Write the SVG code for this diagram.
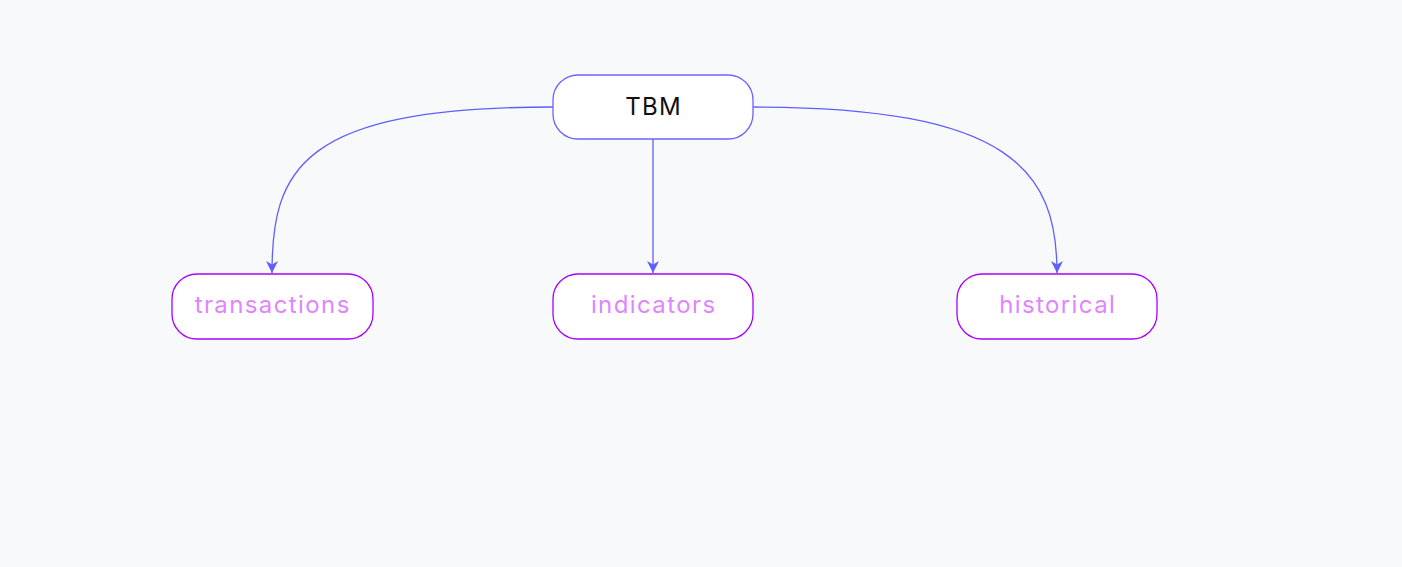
<svg xmlns="http://www.w3.org/2000/svg" width="1402" height="567" viewBox="0 0 1402 567">
<style>
.bg{fill:#f8f9fa}
.root rect{fill:#ffffff;stroke:#6c63ff;stroke-width:1.3}
.leaf rect{fill:#ffffff;stroke:#aa00ff;stroke-width:1.3}
.root text{fill:#111111;font-family:Inter,"Open Sans",sans-serif;font-size:24px;letter-spacing:1.2px;text-anchor:middle}
.leaf text{fill:#e085ff;font-family:Inter,"Open Sans",sans-serif;font-size:24px;letter-spacing:1.4px;text-anchor:middle}
.edge{fill:none;stroke:#5f5fff;stroke-width:1.3}
</style>
<defs>
<marker id="arr" viewBox="0 0 10 10" refX="10" refY="5" markerWidth="12" markerHeight="12" markerUnits="userSpaceOnUse" orient="auto">
<path d="M0,0 L10,5 L0,10 L3,5 Z" fill="#5f5fff"/>
</marker>
</defs>
<rect class="bg" x="0" y="0" width="1402" height="567"/>
<g id="connectors">
<path class="edge" d="M553,107 C300,107 272,170 272,273" marker-end="url(#arr)"/>
<path class="edge" d="M653,139 L653,273" marker-end="url(#arr)"/>
<path class="edge" d="M753,107 C1010,107 1057,170 1057,273" marker-end="url(#arr)"/>
</g>
<g id="node-tbm" class="root">
<rect x="553" y="75" width="200" height="64" rx="25" ry="25"/>
<text x="653.6" y="114.5">TBM</text>
</g>
<g id="node-transactions" class="leaf">
<rect x="172" y="274" width="201" height="65" rx="25" ry="25"/>
<text x="272.7" y="313">transactions</text>
</g>
<g id="node-indicators" class="leaf">
<rect x="553" y="274" width="200" height="65" rx="25" ry="25"/>
<text x="653.7" y="313">indicators</text>
</g>
<g id="node-historical" class="leaf">
<rect x="957" y="274" width="200" height="65" rx="25" ry="25"/>
<text x="1057.7" y="313">historical</text>
</g>
</svg>
